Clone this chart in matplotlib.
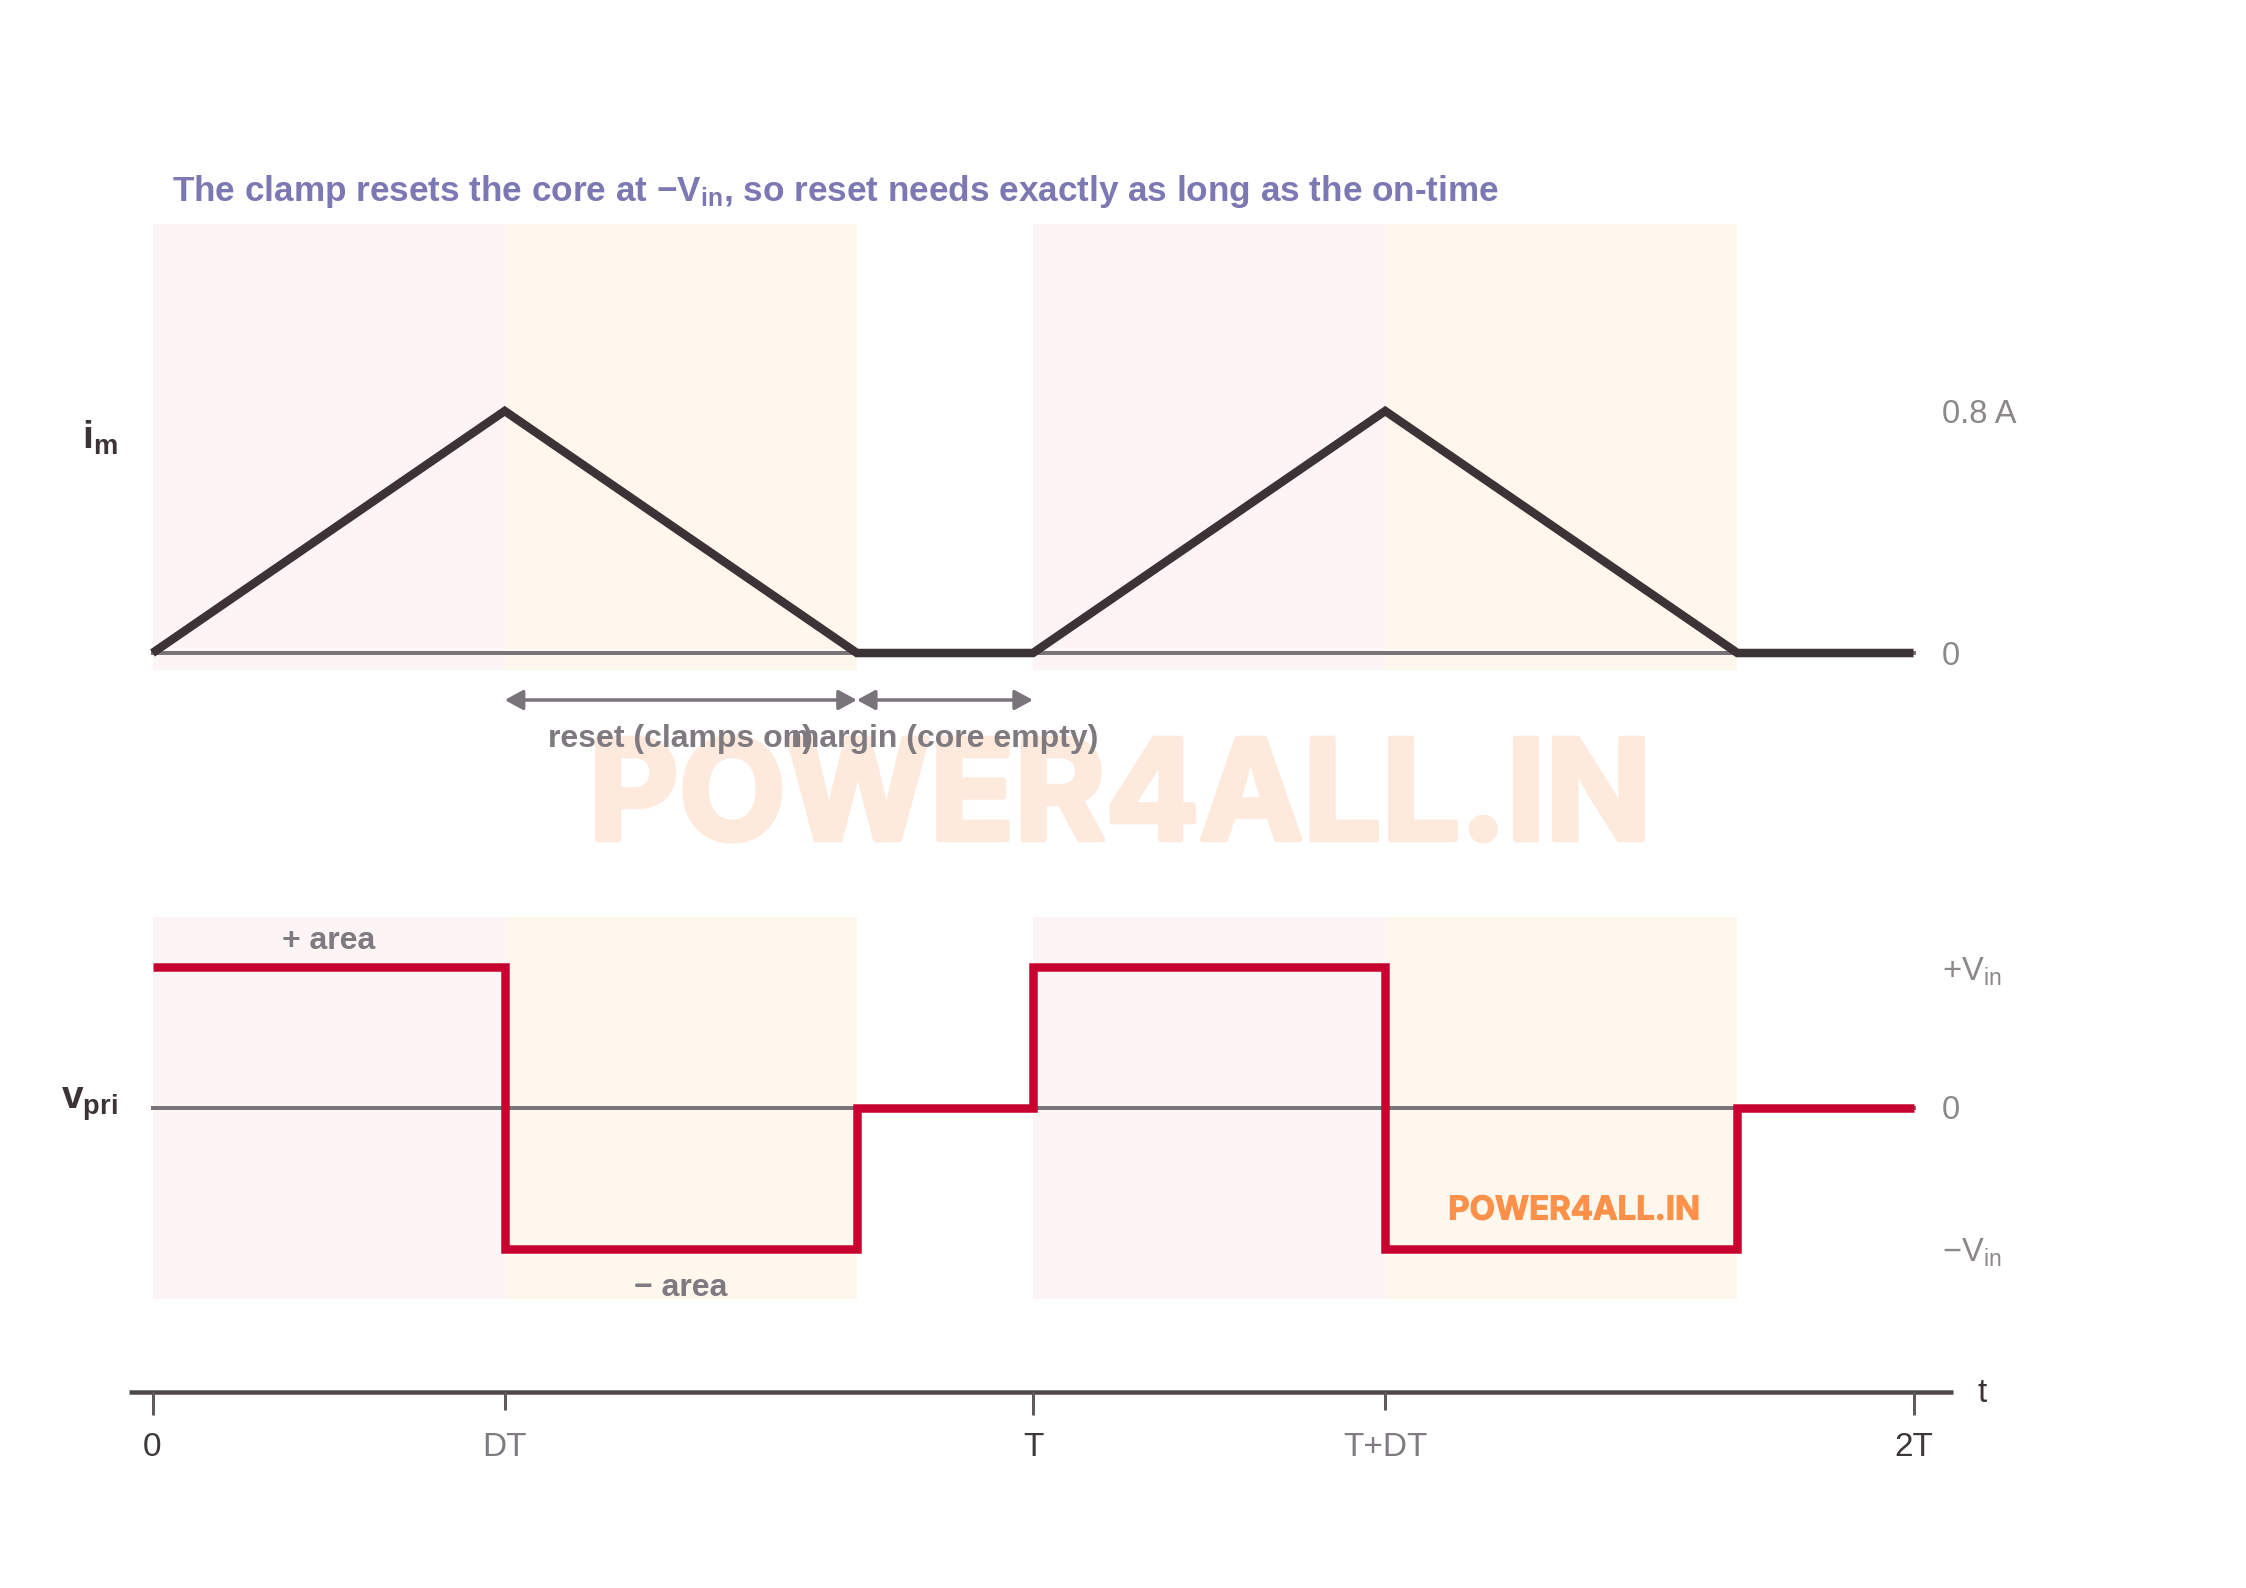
import matplotlib
matplotlib.use('Agg')
import matplotlib.pyplot as plt
import matplotlib.patheffects as pe

plt.rcParams['font.family'] = ['Liberation Sans', 'DejaVu Sans']
plt.rcParams['mathtext.default'] = 'regular'

W, H = 2246, 1588

# time is in units of T, D = 0.4
t_im = [0, 0.4, 0.8, 1, 1.4, 1.8, 2]
im = [0, 0.8, 0, 0, 0.8, 0, 0]
t_v = [0, 0.4, 0.4, 0.8, 0.8, 1, 1, 1.4, 1.4, 1.8, 1.8, 2]
vpri = [1, 1, -1, -1, 0, 0, 1, 1, -1, -1, 0, 0]
on_spans = [(0, 0.4), (1, 1.4)]
reset_spans = [(0.4, 0.8), (1.4, 1.8)]
t_ticks = [0, 0.4, 1, 1.4, 2]
t_labels = ['0', 'DT', 'T', 'T+DT', '2T']
t_label_colors = ['#3c383c', '#7f7b80', '#3c383c', '#7f7b80', '#3c383c']
t_tick_len = [23, 18, 23, 18, 23]

PINK = '#fdf4f6'
CREAM = '#fdf7ee'
DARK = '#3b3335'
GREY = '#79747a'
LABEL = '#8b878b'
BOLD_LABEL = '#7f7a80'
RED = '#c6032f'
WM = '#fee9dd'
PX = 72 / 100   # points per pixel at dpi 100


def make_axes(fig, top, bottom):
    ax = fig.add_axes([129 / W, 1 - bottom / H, (1953 - 129) / W, (bottom - top) / H])
    ax.set_xlim((129 - 152.5) / 880.5, (1953 - 152.5) / 880.5)
    ax.patch.set_alpha(0)
    for s in ax.spines.values():
        s.set_visible(False)
    ax.set_xticks([])
    ax.set_yticks([])
    return ax


fig = plt.figure(figsize=(W / 100, H / 100), dpi=100, facecolor='white')

# watermark goes under everything
fig.text(1120 / W, 1 - 803 / H, 'POWER4ALL.IN', color=WM, fontsize=100,
         family=['Inter', 'DejaVu Sans'], weight='bold', ha='center', va='center', zorder=-1,
         path_effects=[pe.withStroke(linewidth=4, foreground=WM)])

ax1 = make_axes(fig, 224, 670)
ax1.set_ylim(-17 / 302.5, 429 / 302.5)
ax2 = make_axes(fig, 917, 1299)
ax2.set_ylim(-191.5 / 141, 190.5 / 141)
ax3 = make_axes(fig, 1380, 1420)
ax3.set_ylim(-28, 12)

for ax in (ax1, ax2):
    for a, b in on_spans:
        ax.axvspan(a, b, color=PINK, lw=0, zorder=0)
    for a, b in reset_spans:
        ax.axvspan(a, b, color=CREAM, lw=0, zorder=0)
    ax.plot([0, 2], [0, 0], color=GREY, lw=4 * PX, zorder=1)

ax1.plot(t_im, im, color=DARK, lw=8.5 * PX, solid_joinstyle='miter', solid_capstyle='butt', zorder=2)
ax2.plot(t_v, vpri, color=RED, lw=8.5 * PX, solid_joinstyle='miter', solid_capstyle='butt', zorder=2)

# reset / margin arrows
arrow_y = -47 / 302.5
for a, b in [(0.4, 0.8), (0.8, 1)]:
    ax1.annotate('', xy=(a, arrow_y), xytext=(b, arrow_y), annotation_clip=False,
                 arrowprops=dict(arrowstyle='<|-|>,head_length=1.1,head_width=0.6', color=GREY,
                                 lw=3.5 * PX, shrinkA=0, shrinkB=0))
ax1.text(0.6, -86 / 302.5, 'reset (clamps on)', color=BOLD_LABEL, fontsize=23, weight='bold',
         ha='center', va='center', clip_on=False, zorder=5)
ax1.text(0.9, -86 / 302.5, 'margin (core empty)', color=BOLD_LABEL, fontsize=23, weight='bold',
         ha='center', va='center', clip_on=False, zorder=5)

ax2.text(0.2, 1.18, '+ area', color=BOLD_LABEL, fontsize=23, weight='bold', ha='center', va='center')
ax2.text(0.6, -1.28, '\u2212 area', color=BOLD_LABEL, fontsize=23, weight='bold', ha='center', va='center')

# right hand value labels
ax1.text(2.032, 0.79, '0.8 A', color=LABEL, fontsize=23.5, va='center', clip_on=False)
ax1.text(2.032, -0.01, '0', color=LABEL, fontsize=23.5, va='center', clip_on=False)
ax2.text(2.032, 0.96, '+V$_{in}$', color=LABEL, fontsize=23.5, va='center', clip_on=False)
ax2.text(2.032, -0.02, '0', color=LABEL, fontsize=23.5, va='center', clip_on=False)
ax2.text(2.032, -1.03, '\u2212V$_{in}$', color=LABEL, fontsize=23.5, va='center', clip_on=False)

# time axis
ax3.plot(ax3.get_xlim(), [0, 0], color='#4d484c', lw=4.5 * PX, solid_capstyle='butt', clip_on=False)
for x, lab, c, n in zip(t_ticks, t_labels, t_label_colors, t_tick_len):
    ax3.plot([x, x], [0, -n], color='#5f5a5e', lw=3 * PX, solid_capstyle='butt')
    ax3.text(x, -56, lab, color=c, fontsize=24, ha='center', va='center', clip_on=False)

# axis names and title
fig.text(100 / W, 1 - 438 / H, 'i$_{m}$', color=DARK, fontsize=28, weight='bold', ha='center', va='center')
fig.text(89 / W, 1 - 1104 / H, 'v$_{pri}$', color=DARK, fontsize=28, weight='bold', ha='center', va='center')
fig.text(1982 / W, 1 - 1394 / H, 't', color=DARK, fontsize=24, ha='center', va='center')
fig.text(172 / W, 1 - 191 / H, 'The clamp resets the core at \u2212V$_{in}$, so reset needs exactly as long as the on-time',
         color='#7c78b4', fontsize=25.3, weight='bold', ha='left', va='center')

fig.text(1574 / W, 1 - 1211 / H, 'POWER4ALL.IN', color='#fd9149', fontsize=23.7,
         family=['Inter', 'DejaVu Sans'], weight='bold', ha='center', va='center', zorder=6,
         path_effects=[pe.withStroke(linewidth=0.8, foreground='#fd9149')])

fig.savefig('out.png', dpi=100, facecolor='white')
